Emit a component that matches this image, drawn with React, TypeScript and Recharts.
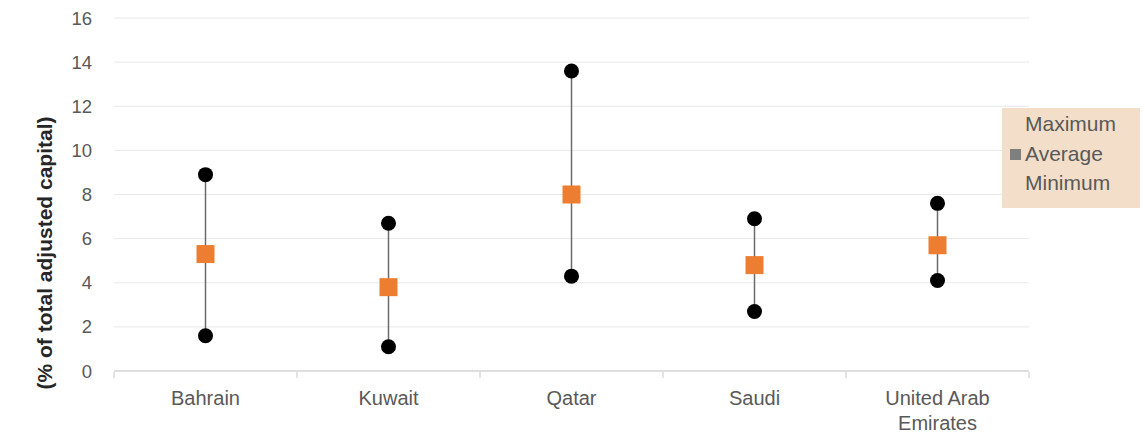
import React from "react";
import { ComposedChart, Bar, Line, XAxis, YAxis, CartesianGrid, Label } from "recharts";

const COUNTRIES = ["Bahrain", "Kuwait", "Qatar", "Saudi", "United Arab Emirates"];
const MAXIMUM = [8.9, 6.7, 13.6, 6.9, 7.6];
const AVERAGE = [5.3, 3.8, 8.0, 4.8, 5.7];
const MINIMUM = [1.6, 1.1, 4.3, 2.7, 4.1];
const Y_TICKS = [0, 2, 4, 6, 8, 10, 12, 14, 16];

const data = COUNTRIES.map((c, i) => ({
  country: c,
  max: MAXIMUM[i],
  avg: AVERAGE[i],
  min: MINIMUM[i],
  range: [MINIMUM[i], MAXIMUM[i]],
}));

const FONT = "'Liberation Sans', Arial, sans-serif";
const TEXT = "#595959";

const RangeLine = (props: any) => {
  const { x, y, width, height } = props;
  const cx = x + width / 2;
  return <line x1={cx} y1={y} x2={cx} y2={y + height} stroke="#6b6b6b" strokeWidth={1.5} />;
};

const CountryTick = (props: any) => {
  const { x, y, payload, index, width } = props;
  const band = width / COUNTRIES.length;
  const words = String(payload.value).split(" ");
  const lines = words.length > 2 ? [words.slice(0, 2).join(" "), words.slice(2).join(" ")] : [payload.value];
  const top = y - 7;
  return (
    <g>
      <line x1={x - band / 2} y1={top} x2={x - band / 2} y2={top + 6} stroke="#c8c8c8" />
      {index === COUNTRIES.length - 1 && (
        <line x1={x + band / 2} y1={top} x2={x + band / 2} y2={top + 6} stroke="#c8c8c8" />
      )}
      <text x={x} y={top + 33} textAnchor="middle" fill={TEXT} fontSize={20} fontFamily={FONT}>
        {lines.map((l: string, i: number) => (
          <tspan key={i} x={x} dy={i === 0 ? 0 : 25}>
            {l}
          </tspan>
        ))}
      </text>
    </g>
  );
};

const AvgSquare = (props: any) => {
  const { cx, cy, index } = props;
  return <rect key={`a${index}`} x={cx - 9} y={cy - 9} width={18} height={18} fill="#ED7D31" />;
};

export default function App() {
  return (
    <div style={{ position: "absolute", left: 0, top: 0, width: 1145, height: 436, background: "#fff" }}>
      <ComposedChart
        width={1145}
        height={436}
        data={data}
        margin={{ top: 18, right: 116, bottom: 15, left: 0 }}
        barCategoryGap="0%"
      >
        <CartesianGrid vertical={false} stroke="#e9e9e9" />
        <XAxis
          dataKey="country"
          height={50}
          axisLine={{ stroke: "#c8c8c8" }}
          tickLine={false}
          interval={0}
          tick={<CountryTick />}
        />
        <YAxis
          width={114}
          domain={[0, 16]}
          ticks={Y_TICKS}
          axisLine={false}
          tickLine={false}
          tickSize={0}
          tickMargin={22}
          tick={{ fill: TEXT, fontSize: 18.5, fontFamily: FONT }}
        >
          <Label
            content={() => (
              <text
                x={52}
                y={253}
                transform="rotate(-90 52 253)"
                textAnchor="middle"
                fill="#262626"
                fontSize={21}
                fontWeight="bold"
                fontFamily={FONT}
              >
                (% of total adjusted capital)
              </text>
            )}
          />
        </YAxis>
        <Bar dataKey="range" shape={<RangeLine />} isAnimationActive={false} />
        <Line
          dataKey="max"
          stroke="none"
          dot={{ r: 7.5, fill: "#000", stroke: "none" }}
          activeDot={false}
          isAnimationActive={false}
        />
        <Line
          dataKey="min"
          stroke="none"
          dot={{ r: 7.5, fill: "#000", stroke: "none" }}
          activeDot={false}
          isAnimationActive={false}
        />
        <Line dataKey="avg" stroke="none" dot={<AvgSquare />} activeDot={false} isAnimationActive={false} />
      </ComposedChart>
      <div
        style={{
          position: "absolute",
          left: 1002,
          top: 108,
          width: 138,
          height: 100,
          background: "#F3DFC9",
          fontFamily: FONT,
          fontSize: 21,
          color: TEXT,
          lineHeight: "24px",
        }}
      >
        <div style={{ position: "absolute", left: 23, top: 4 }}>Maximum</div>
        <div
          style={{ position: "absolute", left: 8, top: 41, width: 11, height: 11, background: "#7f7f7f" }}
        />
        <div style={{ position: "absolute", left: 23, top: 34 }}>Average</div>
        <div style={{ position: "absolute", left: 23, top: 63 }}>Minimum</div>
      </div>
    </div>
  );
}
